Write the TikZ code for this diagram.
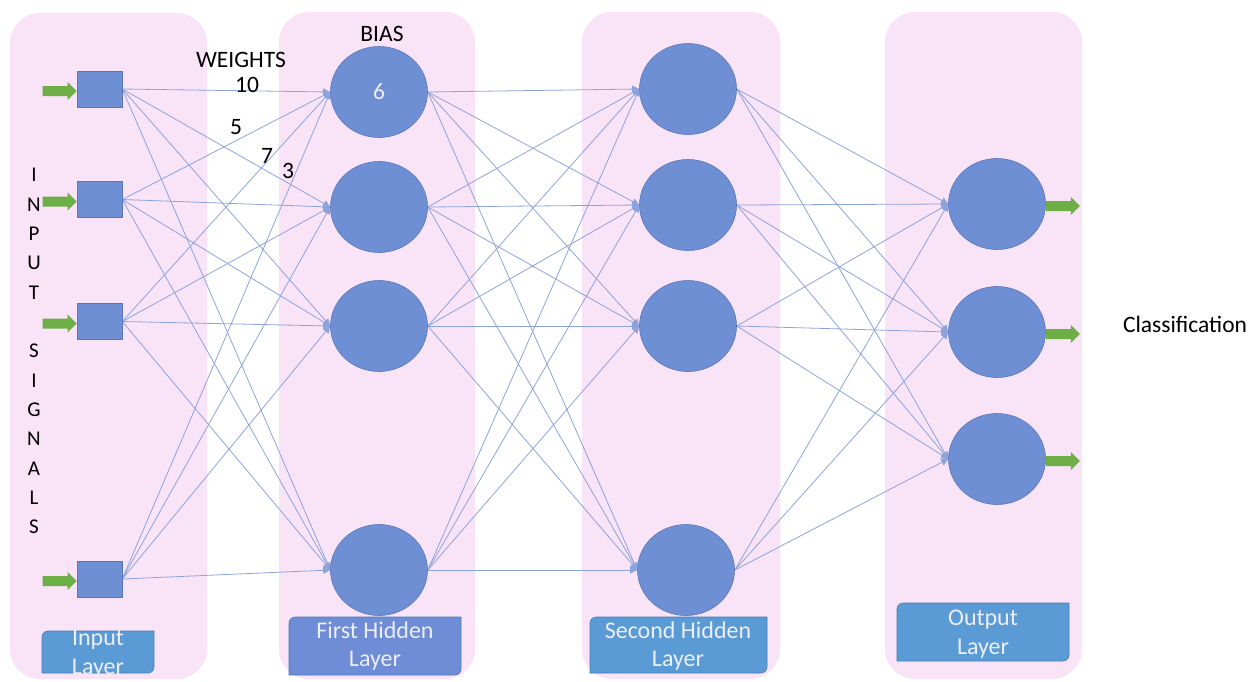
\documentclass[tikz,border=0pt]{standalone}
\usepackage{fontspec}
\setmainfont{Carlito}
\usetikzlibrary{arrows.meta,shapes.geometric,calc}
\definecolor{panelpink}{RGB}{249,227,246}
\definecolor{unitblue}{RGB}{111,143,213}
\definecolor{unitedge}{RGB}{88,118,190}
\definecolor{linkblue}{RGB}{141,163,220}
\definecolor{tagblue}{RGB}{91,155,213}
\definecolor{tagedge}{RGB}{70,125,185}
\definecolor{tagviolet}{RGB}{111,140,214}
\definecolor{sigreen}{RGB}{109,174,70}
\definecolor{paletext}{RGB}{236,238,252}
\pgfdeclarelayer{panels}
\pgfdeclarelayer{links}
\pgfsetlayers{panels,links,main}
% label plate with rounded top-left and bottom-right corners
\newcommand\tagplate[5]{%
  \filldraw[fill=#5, draw=tagedge, line width=0.6pt]
    (#1,#4) -- (#1,#2+6) .. controls (#1,#2+2.7) and (#1+2.7,#2) .. (#1+6,#2)
    -- (#3,#2) -- (#3,#4-6) .. controls (#3,#4-2.7) and (#3-2.7,#4) .. (#3-6,#4) -- cycle;}
\begin{document}
\begin{tikzpicture}[x=1pt,y=-1pt,
  panel/.style={fill=panelpink, rounded corners=30pt},
  inbox/.style={rectangle, fill=unitblue, draw=unitedge, line width=0.6pt,
    minimum width=45pt, minimum height=36pt, inner sep=0pt},
  neuron/.style={ellipse, fill=unitblue, draw=unitedge, line width=0.6pt,
    minimum width=97pt, minimum height=91pt, inner sep=0pt},
  link/.style={draw=linkblue, line width=0.8pt,
    -{Triangle[length=7pt,width=7pt]}},
  caption/.style={font=\fontsize{23.5}{28}\selectfont, text=black, inner sep=0pt},
  letter/.style={font=\fontsize{21}{25}\selectfont, text=black, inner sep=0pt},
  taglabel/.style={font=\fontsize{24}{28.5}\selectfont, text=paletext,
    align=center, inner sep=0pt},
  garrow/.pic={\fill[sigreen] (-34,-5) -- (-9,-5) -- (-9,-9) -- (0,0)
    -- (-9,9) -- (-9,5) -- (-34,5) -- cycle;}
]
\useasboundingbox (0,0) rectangle (1249,681);

% layer panels
\begin{pgfonlayer}{panels}
  \fill[panel] (10,13) rectangle (207,679);
  \fill[panel] (279,12) rectangle (475,679);
  \fill[panel] (582,12) rectangle (780,679);
  \fill[panel] (885,12) rectangle (1082,679);
\end{pgfonlayer}

% input units
\node[inbox] (in1) at (99.5,89) {};
\node[inbox] (in2) at (99.5,199.5) {};
\node[inbox] (in3) at (99.5,321.5) {};
\node[inbox] (in4) at (99.5,579) {};

% first hidden layer
\node[neuron] (h1) at (379,92) {\fontsize{23.5}{28}\selectfont\color{paletext}6};
\node[neuron] (h2) at (379,207) {};
\node[neuron] (h3) at (379,326) {};
\node[neuron] (h4) at (379,570) {};

% second hidden layer
\node[neuron] (g1) at (688,89) {};
\node[neuron] (g2) at (688,205) {};
\node[neuron] (g3) at (688,326) {};
\node[neuron] (g4) at (686,570) {};

% output layer
\node[neuron] (o1) at (997,204) {};
\node[neuron] (o2) at (997,332) {};
\node[neuron] (o3) at (997,459) {};

% weighted connections
\begin{pgfonlayer}{links}
  \foreach \i in {1,...,4}
    \foreach \j in {1,...,4} {
      \draw[link] (in\i.east) -- (h\j.west);
      \draw[link] (h\i.east) -- (g\j.west);
    }
  \foreach \i in {1,...,4}
    \foreach \j in {1,...,3}
      \draw[link] (g\i.east) -- (o\j.west);
\end{pgfonlayer}

% input signals and output arrows
\foreach \i in {1,...,4}
  \pic at ($(in\i.west)+(0,2)$) {garrow};
\foreach \j in {1,...,3}
  \pic at ($(o\j.east)+(34,2)$) {garrow};

% annotations
\node[caption] (bias) at (382,34) {BIAS};
\node[caption] (weights) at (241,60) {WEIGHTS};
\node[caption] (w10) at (247,85) {10};
\node[caption] (w5) at (236,127) {5};
\node[caption] (w7) at (267,156) {7};
\node[caption] (w3) at (288,171) {3};
\node[caption] (classification) at (1185,324) {Classification};

% vertical caption
\foreach \ch [count=\k from 0] in {I,N,P,U,T,,S,I,G,N,A,L,S}
  \node[letter] (sig\k) at (34,175+29.33*\k) {\ch};

% layer name plates
\tagplate{42}{631}{154}{673}{tagblue}
\node[taglabel] (inname) at (98,654) {Input\\Layer};
\tagplate{289}{617}{461}{675}{tagviolet}
\node[taglabel] (h1name) at (375,646) {First Hidden\\Layer};
\tagplate{590}{617}{767}{673}{tagblue}
\node[taglabel] (h2name) at (678,646) {Second Hidden\\Layer};
\tagplate{897}{603}{1069}{661}{tagblue}
\node[taglabel] (outname) at (983,634) {Output\\Layer};
\end{tikzpicture}
\end{document}
